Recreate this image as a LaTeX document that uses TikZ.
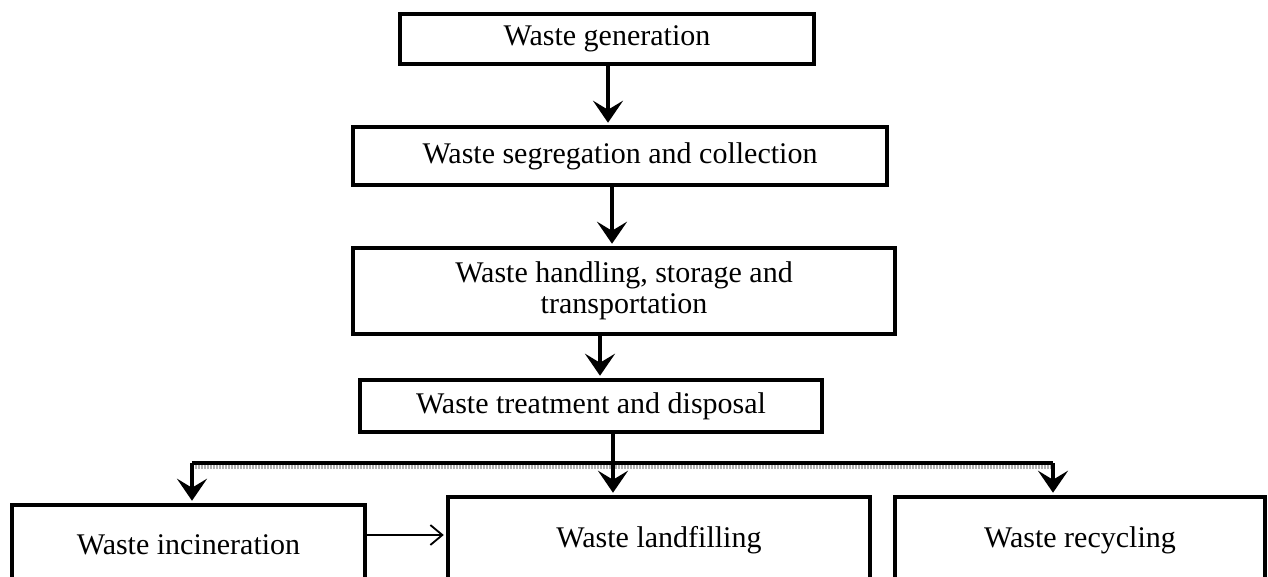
\documentclass[tikz,border=0pt]{standalone}
\usepackage{fontspec}
\setmainfont{Liberation Serif}
\usetikzlibrary{arrows.meta}
\begin{document}
\begin{tikzpicture}[x=1pt,y=-1pt,
 box/.style={draw, line width=4.5pt, inner sep=0pt, font=\fontsize{30}{31}\selectfont, align=center},
 arr/.style={line width=4pt, shorten >=2pt, -{Stealth[length=22pt,width=30pt,inset=9pt]}},
 thinarr/.style={line width=1.8pt, shorten >=2pt, -{Straight Barb[length=12pt,width=20pt]}},
 bus/.style={line width=3.5pt, preaction={draw=gray!60, line width=4pt, dash pattern=on 2pt off 1pt, transform canvas={yshift=-4pt}}}]
\useasboundingbox (0,0) rectangle (1268,577);
\clip (0,0) rectangle (1268,577);
\node[box, minimum width=414pt, minimum height=50pt] (b1) at (607,39) {Waste generation};
\node[box, minimum width=534pt, minimum height=58pt] (b2) at (620,156) {Waste segregation and collection};
\node[box, minimum width=542pt, minimum height=86pt] (b3) at (624,291) {Waste handling, storage and\\transportation};
\node[box, minimum width=462pt, minimum height=52pt] (b4) at (591,406) {Waste treatment and disposal};
\node[box, minimum width=353pt, minimum height=80pt] (b5) at (188.5,545) {Waste incineration};
\node[box, minimum width=422pt, minimum height=86pt] (b6) at (659,540) {Waste landfilling};
\node[box, minimum width=370pt, minimum height=86pt] (b7) at (1080,540) {Waste recycling};
% vertical arrows
\draw[arr] ([xshift=1pt]b1.south) -- ([xshift=1pt]b1.south |- b2.north);
\draw[arr] ([xshift=-8pt]b2.south) -- ([xshift=-8pt]b2.south |- b3.north);
\draw[arr] ([xshift=-24pt]b3.south) -- ([xshift=-24pt]b3.south |- b4.north);
% distribution
\coordinate (jm) at (613,463);
\coordinate (jl) at (192,463);
\coordinate (jr) at (1053,463);
\draw[line width=4pt] ([xshift=22pt]b4.south) -- (jm);
\draw[bus] (jl) -- (jr);
\draw[arr] (jl) -- (jl |- b5.north);
\draw[arr] (jm) -- (jm |- b6.north);
\draw[arr] (jr) -- (jr |- b7.north);
\draw[thinarr] ([yshift=10pt]b5.east) -- ([yshift=10pt]b5.east -| b6.west);
\end{tikzpicture}
\end{document}
